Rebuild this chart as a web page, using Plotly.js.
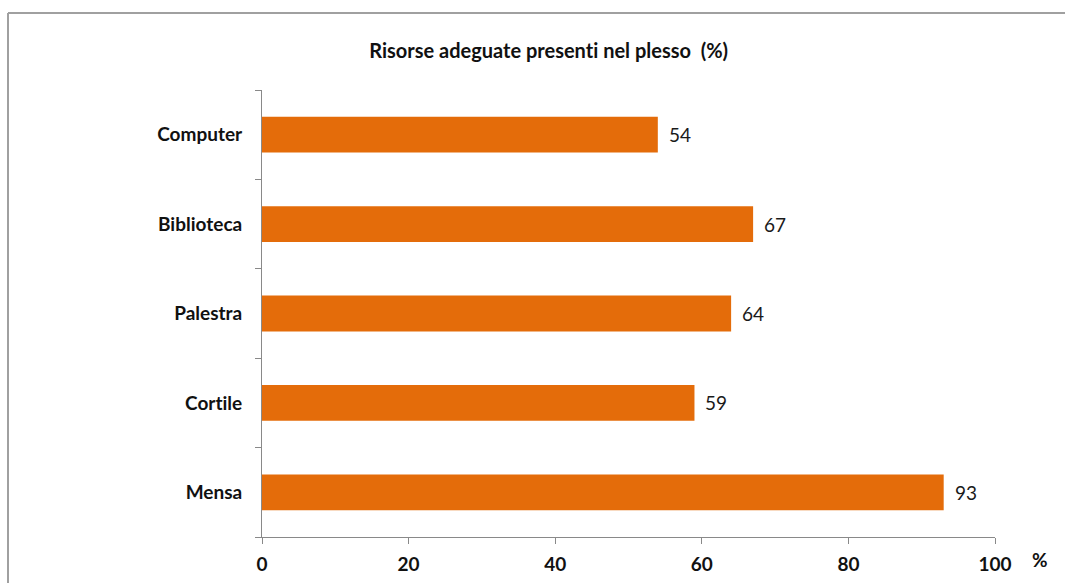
<!DOCTYPE html>
<html>
<head>
<meta charset="utf-8">
<script src="https://cdn.plot.ly/plotly-3.0.1.min.js"></script>
<style>
html,body{margin:0;padding:0;background:#fff;}
#chart{width:1065px;height:583px;}
#chart text{font-variant-ligatures:none;font-feature-settings:"liga" 0, "clig" 0;}
</style>
</head>
<body>
<div id="chart"></div>
<script>
const categories = ["Mensa", "Cortile", "Palestra", "Biblioteca", "Computer"];
const values = [93, 59, 64, 67, 54];
const xTicks = [0, 20, 40, 60, 80, 100];
const titleText = "Risorse adeguate presenti nel plesso  (%)";
const unitLabel = "%";

const FONT = "Lato, 'Open Sans', sans-serif";
const barColor = "#E46C0A";
const axisColor = "#898989";

const trace = {
  type: "bar",
  orientation: "h",
  y: categories,
  x: values,
  width: 0.4,
  marker: {color: barColor, line: {width: 0}},
  hoverinfo: "skip"
};

const labelAnnotations = categories.map((c, i) => ({
  x: values[i], y: c, xref: "x", yref: "y",
  text: String(values[i]), showarrow: false,
  xanchor: "left", yanchor: "middle", xshift: 9,
  font: {family: FONT, size: 19, color: "#1a1a1a"}
}));

const layout = {
  width: 1065, height: 583,
  margin: {l: 262, r: 70, t: 90, b: 46},
  paper_bgcolor: "#fff", plot_bgcolor: "#fff",
  showlegend: false,
  title: {text: ""},
  xaxis: {
    range: [0, 100], tickvals: xTicks, ticktext: xTicks.map(v => "<b>" + v + "</b>"),
    showgrid: false, zeroline: false,
    showline: true, linecolor: axisColor, linewidth: 1,
    ticks: "outside", ticklen: 6, tickcolor: axisColor, tickwidth: 1,
    tickfont: {family: FONT, size: 19, color: "#111"},
    ticklabelstandoff: 4,
    fixedrange: true
  },
  yaxis: {
    type: "category", categoryorder: "array", categoryarray: categories,
    range: [-0.5, 4.5],
    tickvals: categories, ticktext: categories.map(c => "<b>" + c + "</b>"),
    showgrid: false, zeroline: false,
    showline: true, linecolor: axisColor, linewidth: 1,
    ticks: "outside", tickson: "boundaries", ticklen: 6, tickcolor: axisColor, tickwidth: 1,
    tickfont: {family: FONT, size: 19, color: "#111"},
    ticklabelstandoff: 15,
    fixedrange: true
  },
  shapes: [
    {type: "line", xref: "paper", yref: "paper",
     x0: -254/733, x1: 803/733, y0: 1 + 77/447, y1: 1 + 77/447,
     line: {color: "#a0a0a0", width: 2}},
    {type: "line", xref: "paper", yref: "paper",
     x0: -254/733, x1: -254/733, y0: 1 + 77/447, y1: -50/447,
     line: {color: "#a0a0a0", width: 2}}
  ],
  annotations: labelAnnotations.concat([
    {
      xref: "paper", yref: "paper", x: 778/733, y: -22/447,
      text: "<b>" + unitLabel + "</b>", showarrow: false,
      xanchor: "center", yanchor: "middle",
      font: {family: FONT, size: 19, color: "#111"}
    },
    {
      xref: "paper", yref: "paper", x: (548 - 262) / 733, y: 1 + 40/447,
      text: "<b>" + titleText + "</b>", showarrow: false,
      xanchor: "center", yanchor: "middle",
      font: {family: FONT, size: 20, color: "#111"}
    }
  ])
};

Plotly.newPlot("chart", [trace], layout, {displayModeBar: false, staticPlot: true});
</script>
</body>
</html>
